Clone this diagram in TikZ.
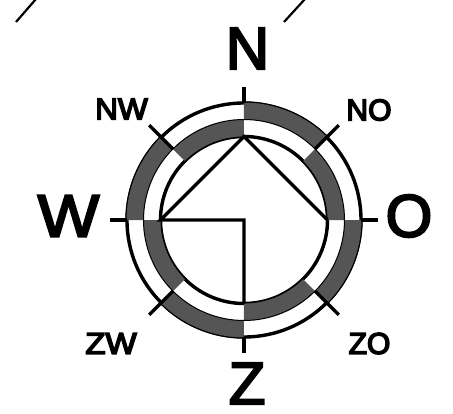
\documentclass[tikz,border=0pt]{standalone}
\usepackage{fontspec}
\setmainfont{Liberation Sans}
\newfontfamily\heavyfont[FakeBold=3.5]{Liberation Sans}
\newfontfamily\smallheavy[FakeBold=5]{Liberation Sans}
\definecolor{bandgray}{HTML}{555555}
\tikzset{
  band/.style={fill=bandgray,draw=none},
  bandedge/.style={draw=black,line width=1pt},
  ring/.style={draw=black,line width=3.4pt},
  tick/.style={draw=black,line width=3.2pt},
  house/.style={draw=black,line width=3.2pt,line join=miter},
  free/.style={draw=black,line width=2.2pt},
  bigtext/.style={font=\fontsize{60}{60}\heavyfont,inner sep=0pt},
  smalltext/.style={font=\fontsize{30}{30}\smallheavy,inner sep=0pt}
}
\newcommand{\sector}[4]{%
  \fill[band] (#1:#3) arc[start angle=#1,end angle=#2,radius=#3] -- (#2:#4) arc[start angle=#2,end angle=#1,radius=#4] -- cycle;
  \draw[bandedge] (#1:#3) arc[start angle=#1,end angle=#2,radius=#3];
  \draw[bandedge] (#1:#4) arc[start angle=#1,end angle=#2,radius=#4];}
\begin{document}
\begin{tikzpicture}[x=1pt,y=1pt]
\useasboundingbox (-244,-193) rectangle (209,220);
\clip (-244,-193) rectangle (209,220);
% circles
\draw[ring] (0,0) circle[radius=117];
\draw[ring] (0,0) circle[radius=83.5];
% bands
\sector{45}{90}{118}{100.5}
\sector{0}{45}{100.5}{83}
\sector{-45}{0}{118}{100.5}
\sector{-90}{-45}{100.5}{83}
\sector{-135}{-90}{118}{100.5}
\sector{-180}{-135}{100.5}{83}
\sector{135}{180}{118}{100.5}
\sector{90}{135}{100.5}{83}
% coordinates
\coordinate (cN) at (90:83.5); \coordinate (cE) at (0:83.5);
\coordinate (cW) at (180:83.5); \coordinate (cS) at (-90:83.5);
\coordinate (cC) at (0,0);
\coordinate (tNi) at (90:117); \coordinate (tNo) at (90:133);
\coordinate (tEi) at (0:117); \coordinate (tEo) at (0:134);
\coordinate (tSi) at (-90:117); \coordinate (tSo) at (-90:133);
\coordinate (tWi) at (180:117); \coordinate (tWo) at (180:134);
\foreach \n/\a in {NE/45,NW/135,SE/-45,SW/-135}{
  \coordinate (d\n i) at (\a:100.5); \coordinate (d\n o) at (\a:134);
}
% ticks
\draw[tick] (tNi) -- (tNo);
\draw[tick] (tEi) -- (tEo);
\draw[tick] (tSi) -- (tSo);
\draw[tick] (tWi) -- (tWo);
\draw[tick] (dNEi) -- (dNEo);
\draw[tick] (dNWi) -- (dNWo);
\draw[tick] (dSEi) -- (dSEo);
\draw[tick] (dSWi) -- (dSWo);
% house lines
\draw[house] (cE) -- (cN) -- (cW) -- (cC) -- (cS);
% free lines at top
\coordinate (la) at (-228,198); \coordinate (lb) at (-208,221);
\coordinate (ra) at (40,198); \coordinate (rb) at (61,221);
\draw[free] (la) -- (lb);
\draw[free] (ra) -- (rb);
% labels
\node[bigtext] (lN) at (3.5,171.5) {N};
\node[bigtext,xscale=1.09] (lW) at (-175.5,4) {W};
\node[bigtext] (lO) at (165,4) {O};
\node[bigtext] (lZ) at (3,-163.5) {Z};
\node[smalltext,xscale=1.05] (lNW) at (-122.5,111) {NW};
\node[smalltext] (lNO) at (125,110) {NO};
\node[smalltext,xscale=1.1] (lZW) at (-133,-123.5) {ZW};
\node[smalltext] (lZO) at (125.5,-123.5) {ZO};
\end{tikzpicture}
\end{document}
